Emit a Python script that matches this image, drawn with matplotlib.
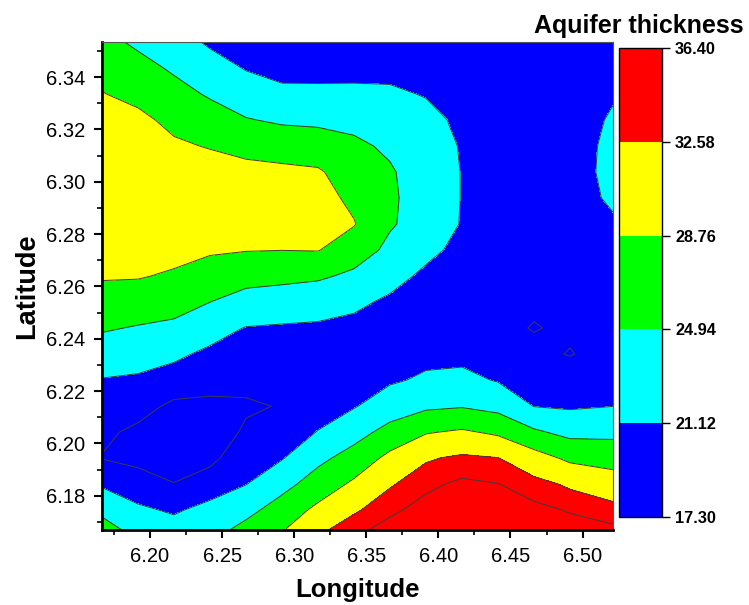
import numpy as np
import matplotlib
matplotlib.use("Agg")
import matplotlib.pyplot as plt
from matplotlib.colors import ListedColormap, BoundaryNorm
from matplotlib.ticker import MultipleLocator, FormatStrFormatter

plt.rcParams["font.family"] = ["Liberation Sans", "DejaVu Sans"]

# grid: longitudes (columns) and latitudes (rows, north -> south)
lon = [6.1667, 6.1917, 6.2166, 6.2416, 6.2666, 6.2915, 6.3165, 6.3415,
       6.3664, 6.3914, 6.4164, 6.4413, 6.4663, 6.4913, 6.5211]
lat = [6.3534, 6.3435, 6.3335, 6.3236, 6.3136, 6.3037, 6.2938, 6.2838,
       6.2739, 6.2639, 6.2540, 6.2441, 6.2341, 6.2242, 6.2142, 6.2043,
       6.1944, 6.1844, 6.1745, 6.1669]

# aquifer thickness, one list per longitude column (north -> south)
thickness = [
    [26.0, 27.6, 28.9, 30.2, 31.2, 31.8, 32.1, 31.9, 30.9, 29.1, 27.1, 25.3, 23.2, 20.95, 20.0, 19.5, 19.15, 20.7, 24.0, 26.7],
    [24.3, 26.1, 27.8, 29.6, 30.9, 31.6, 31.9, 31.7, 30.8, 29.0, 26.9, 24.7, 22.4, 20.7, 19.75, 18.9, 18.8, 19.9, 21.5, 23.5],
    [22.7, 24.45, 26.15, 27.85, 29.3, 30.6, 31.2, 31.0, 29.9, 28.3, 26.3, 24.2, 21.6, 20.1, 18.9, 18.4, 18.6, 19.25, 20.85, 22.0],
    [20.6, 22.6, 24.55, 26.55, 28.55, 30.3, 31.0, 30.6, 29.2, 27.1, 24.95, 22.2, 20.6, 19.7, 18.9, 18.3, 18.8, 20.0, 21.8, 23.5],
    [20.1, 20.9, 22.9, 25.15, 27.6, 29.9, 30.8, 30.4, 28.9, 26.25, 23.45, 21.0, 20.3, 19.65, 19.0, 19.45, 20.25, 21.05, 23.8, 26.15],
    [19.7, 19.9, 22.0, 24.45, 27.05, 29.6, 30.4, 30.0, 28.8, 25.95, 22.9, 20.8, 20.1, 19.4, 19.3, 20.0, 20.9, 23.7, 26.7, 28.5],
    [19.8, 19.9, 21.95, 24.25, 26.7, 29.2, 30.0, 29.7, 28.9, 25.5, 22.4, 20.7, 20.1, 19.8, 20.2, 21.2, 24.0, 26.7, 29.6, 32.0],
    [19.9, 19.9, 22.0, 24.0, 25.6, 26.8, 28.0, 28.95, 26.8, 24.2, 21.75, 20.3, 19.8, 20.0, 20.9, 23.5, 26.45, 29.4, 32.2, 34.0],
    [20.0, 20.3, 21.6, 23.0, 24.4, 25.3, 25.5, 25.3, 24.1, 22.2, 20.6, 19.9, 19.9, 20.7, 22.95, 26.2, 29.7, 32.3, 34.1, 35.2],
    [20.0, 20.2, 20.95, 22.0, 22.6, 23.2, 23.3, 23.4, 21.9, 20.5, 19.8, 19.7, 20.3, 21.6, 24.3, 28.5, 32.25, 34.05, 35.2, 35.8],
    [19.9, 19.95, 20.1, 20.5, 20.9, 21.0, 21.0, 20.9, 20.3, 19.8, 19.6, 19.7, 20.3, 21.95, 24.7, 29.25, 33.1, 34.9, 35.8, 36.2],
    [19.9, 19.8, 19.7, 19.8, 19.8, 19.9, 19.9, 19.9, 19.7, 19.6, 19.5, 19.5, 19.9, 20.9, 23.8, 28.15, 32.65, 34.55, 35.6, 36.0],
    [20.0, 19.9, 19.8, 19.8, 19.9, 19.9, 19.9, 19.8, 19.6, 19.5, 19.4, 19.15, 19.5, 20.0, 21.05, 25.5, 30.35, 33.5, 35.0, 35.6],
    [20.2, 20.0, 19.9, 20.0, 20.1, 20.1, 20.1, 19.9, 19.7, 19.6, 19.5, 19.4, 19.15, 19.9, 20.7, 23.9, 28.0, 32.15, 34.35, 35.2],
    [20.5, 20.7, 20.9, 21.4, 21.7, 21.8, 21.5, 20.8, 20.3, 20.0, 19.8, 19.7, 19.7, 20.3, 21.1, 24.05, 27.2, 30.7, 33.5, 34.9],
]

levels = [17.30, 21.12, 24.94, 28.76, 32.58, 36.40]
line_levels = [19.21, 21.12, 24.94, 28.76, 32.58, 34.49]
colors = ["#0000ff", "#00ffff", "#00ff00", "#ffff00", "#ff0000"]

z = np.array(thickness).T[::-1]
lat_up = np.array(lat)[::-1]

fig = plt.figure(figsize=(7.49, 6.05), dpi=100)
ax = fig.add_axes([0.1362, 0.1240, 0.6822, 0.8066])

cmap = ListedColormap(colors)
norm = BoundaryNorm(levels, cmap.N)
cf = ax.contourf(lon, lat_up, z, levels=levels, cmap=cmap, norm=norm)
ax.contour(lon, lat_up, z, levels=line_levels, colors="#3c3c3c", linewidths=0.7)

ax.set_xlim(lon[0], lon[-1])
ax.set_ylim(lat[-1], lat[0])

ax.xaxis.set_major_locator(MultipleLocator(0.05))
ax.xaxis.set_minor_locator(MultipleLocator(0.025))
ax.yaxis.set_major_locator(MultipleLocator(0.02))
ax.yaxis.set_minor_locator(MultipleLocator(0.01))
ax.xaxis.set_major_formatter(FormatStrFormatter("%.2f"))
ax.yaxis.set_major_formatter(FormatStrFormatter("%.2f"))
ax.tick_params(which="major", direction="out", length=6, width=1.5, labelsize=14.5)
ax.tick_params(axis="y", which="major", pad=6)
ax.tick_params(axis="x", which="major", pad=6)
ax.tick_params(which="minor", direction="out", length=3.5, width=1.2)

for side in ["left", "bottom"]:
    ax.spines[side].set_linewidth(2)
    ax.spines[side].set_color("black")
for side in ["top", "right"]:
    ax.spines[side].set_linewidth(0.8)
    ax.spines[side].set_color("#555555")

ax.set_xlabel("Longitude", fontsize=18.5, fontweight="bold", labelpad=9)
ax.set_ylabel("Latitude", fontsize=19.5, fontweight="bold", labelpad=4)

# colour scale
cax = fig.add_axes([0.8264, 0.1455, 0.0574, 0.7752])
cb = fig.colorbar(cf, cax=cax, ticks=levels)
cb.ax.set_yticklabels([f"{v:.2f}" for v in levels], fontsize=11.7, fontweight="bold")
cb.ax.tick_params(direction="out", length=6, width=1)
cb.outline.set_linewidth(1)
cb.outline.set_edgecolor("black")

fig.text(0.8525, 0.957, "Aquifer thickness", ha="center", va="center",
         fontsize=18, fontweight="bold")

fig.savefig("out.png", dpi=100)
